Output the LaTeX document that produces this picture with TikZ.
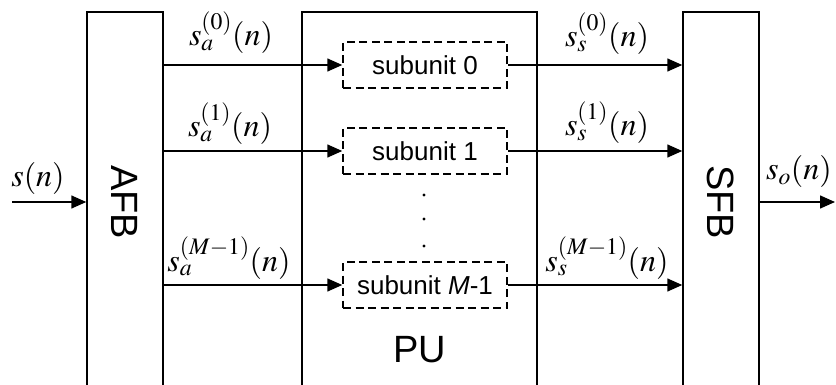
\documentclass[tikz,border=0pt]{standalone}
\usepackage{mathptmx}
\usepackage{fontspec}
\setsansfont{Liberation Sans}
\usetikzlibrary{arrows.meta}

\tikzset{
	blk/.style={draw, line width=1.5pt, minimum width=76pt, minimum height=380pt, inner sep=0pt, font=\sffamily\fontsize{38}{40}\selectfont},
	subbox/.style={draw, dash pattern=on 8pt off 4.5pt, line width=1.5pt, minimum width=164pt, minimum height=46pt, inner sep=0pt, font=\sffamily\fontsize{26}{28}\selectfont},
	sig/.style={line width=1.5pt, -{Triangle[length=15pt,width=13pt]}},
	lbl/.style={anchor=base, inner sep=0pt, font=\fontsize{32}{34}\selectfont},
}

\begin{document}
\begin{tikzpicture}[x=1pt,y=-1pt]
					% Define the frame
					\useasboundingbox (0,0) rectangle (836,385);
					\clip (0,0) rectangle (836,385);
					% Filter banks and processing unit
					\node[blk] (afb) at (125,202) {\rotatebox{-90}{AFB}};
					\node[blk, minimum width=235pt] (pu) at (419.5,202) {};
					\node[blk] (sfb) at (721,202) {\rotatebox{-90}{SFB}};
					\node[font=\sffamily\fontsize{38}{40}\selectfont] (putxt) at (419.5,350) {PU};
					% Subunits
					\node[subbox] (sub0) at (425,65) {subunit 0};
					\node[subbox] (sub1) at (425,151) {subunit 1};
					\node[subbox] (subM) at (425,285) {subunit \textit{M}-1};
					\foreach \y in {195,219,246} \fill (424,\y) circle (1.6pt);
					% Connect the subunits
					\foreach \s in {sub0,sub1,subM}{
						\draw[sig] (afb.east |- \s.west) -- (\s.west);
						\draw[sig] (\s.east) -- (sfb.west |- \s.east);}
					% Input and output
					\coordinate (in) at (12,202);
					\coordinate (out) at (835,202);
					\draw[sig] (in) -- (afb.west |- in);
					\draw[sig] (sfb.east |- out) -- (out);
					% Add labels to the signals
					\node[lbl] (sin) at (38,187) {$s(n)$};
					\node[lbl] (sout) at (799,180) {$s_o(n)$};
					\node[lbl] (sa0) at (231,46) {$s_a^{(0)}(n)$};
					\node[lbl] (sa1) at (230,137) {$s_a^{(1)}(n)$};
					\node[lbl] (saM) at (229,271) {$s_a^{(M-1)}(n)$};
					\node[lbl] (ss0) at (607,47) {$s_s^{(0)}(n)$};
					\node[lbl] (ss1) at (607,136) {$s_s^{(1)}(n)$};
					\node[lbl] (ssM) at (607,271) {$s_s^{(M-1)}(n)$};
				\end{tikzpicture}
\end{document}
